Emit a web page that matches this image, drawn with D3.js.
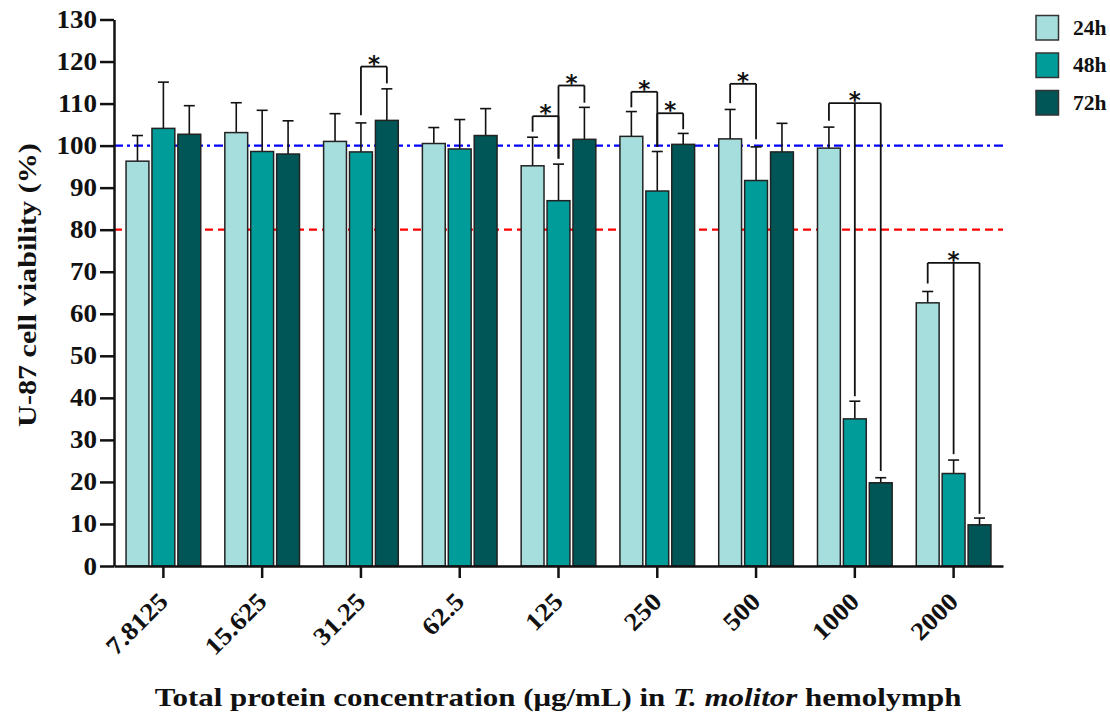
<!DOCTYPE html>
<html><head><meta charset="utf-8">
<script src="https://cdn.jsdelivr.net/npm/d3@7"></script>
<style>body{margin:0;background:#fff}</style>
</head><body>
<svg id="c" width="1110" height="715"></svg>
<script>
const categories = ["7.8125","15.625","31.25","62.5","125","250","500","1000","2000"];
const seriesNames = ["24h","48h","72h"];
const seriesColors = ["#a6dddd","#009c99","#005656"];
const mean24 = [96.3,103.1,101.0,100.5,95.2,102.2,101.6,99.4,62.6];
const sd24   = [6.1,7.1,6.6,3.8,6.8,5.9,7.0,5.0,2.7];
const mean48 = [104.1,98.6,98.5,99.2,86.9,89.2,91.7,35.0,22.0];
const sd48   = [11.0,9.8,6.9,7.0,8.7,9.4,8.0,4.2,3.2];
const mean72 = [102.7,98.0,106.0,102.4,101.5,100.3,98.5,19.8,9.8];
const sd72   = [6.8,7.9,7.5,6.4,7.6,2.6,6.8,1.2,1.6];
const yTicks = [0,10,20,30,40,50,60,70,80,90,100,110,120,130];
const refBlue = 100, refRed = 80;
// significance brackets: category, series legs, top value, leg bottom values
const brackets = [
  {cat:"31.25", legs:[1,2], top:118.8, bottoms:[107.2,114.8]},
  {cat:"125",   legs:[0,1], top:107.0, bottoms:[103.3,96.9]},
  {cat:"125",   legs:[1,2], top:114.3, bottoms:[96.9,110.2]},
  {cat:"250",   legs:[0,1], top:112.8, bottoms:[109.1,99.7]},
  {cat:"250",   legs:[1,2], top:107.7, bottoms:[99.7,103.9]},
  {cat:"500",   legs:[0,1], top:114.7, bottoms:[110.1,101.5]},
  {cat:"1000",  legs:[0,1,2], top:110.1, bottoms:[105.9,40.4,22.6]},
  {cat:"2000",  legs:[0,1,2], top:72.1, bottoms:[67.2,26.6,12.4]}
];

const means = [mean24, mean48, mean72];
const sds = [sd24, sd48, sd72];
const data = categories.map((c,i)=>({cat:c, vals:[0,1,2].map(s=>({s, v:means[s][i], sd:sds[s][i]}))}));

const svg = d3.select("#c");
const FONT = "'Liberation Serif', 'DejaVu Serif', serif";
const x = d3.scaleBand().domain(categories).range([114,1003]).paddingInner(0).paddingOuter(0);
const xs = d3.scaleBand().domain([0,1,2]).range([x.bandwidth()*0.122, x.bandwidth()*0.878]).paddingInner(0.118);
const y = d3.scaleLinear().domain([0,130]).range([566,19.5]);

// reference lines
svg.append("line").attr("x1",114).attr("x2",1003).attr("y1",y(refRed)).attr("y2",y(refRed))
  .attr("stroke","#ff0000").attr("stroke-width",2.2).attr("stroke-dasharray","8,5");
svg.append("line").attr("x1",114).attr("x2",1003).attr("y1",y(refBlue)).attr("y2",y(refBlue))
  .attr("stroke","#0000ff").attr("stroke-width",2.2).attr("stroke-dasharray","9,4,3,4");

// bars
const g = svg.append("g").selectAll("g").data(data).join("g")
  .attr("transform",d=>`translate(${x(d.cat)},0)`);
// error bars
g.selectAll("g.err").data(d=>d.vals).join("g").attr("class","err").each(function(d){
  const cx = xs(d.s)+xs.bandwidth()/2, sel=d3.select(this);
  sel.append("line").attr("x1",cx).attr("x2",cx).attr("y1",y(d.v)).attr("y2",y(d.v+d.sd))
    .attr("stroke","#111").attr("stroke-width",1.6);
  sel.append("line").attr("x1",cx-5.5).attr("x2",cx+5.5).attr("y1",y(d.v+d.sd)).attr("y2",y(d.v+d.sd))
    .attr("stroke","#111").attr("stroke-width",1.6);
});
g.selectAll("rect").data(d=>d.vals).join("rect")
  .attr("x",d=>xs(d.s)).attr("width",xs.bandwidth())
  .attr("y",d=>y(d.v)).attr("height",d=>y(0)-y(d.v))
  .attr("fill",d=>seriesColors[d.s]).attr("stroke","#222").attr("stroke-width",1.5);

// brackets
brackets.forEach(b=>{
  const lx = b.legs.map(s=>x(b.cat)+xs(s)+xs.bandwidth()/2);
  const gb = svg.append("g").attr("stroke","#111").attr("stroke-width",1.8).attr("fill","none");
  gb.append("line").attr("x1",lx[0]).attr("x2",lx[lx.length-1]).attr("y1",y(b.top)).attr("y2",y(b.top));
  lx.forEach((xx,k)=>gb.append("line").attr("x1",xx).attr("x2",xx).attr("y1",y(b.top)).attr("y2",y(b.bottoms[k])));
  svg.append("text").attr("x",(lx[0]+lx[lx.length-1])/2).attr("y",y(b.top)+5)
    .attr("text-anchor","middle").attr("font-family","'DejaVu Sans', sans-serif").attr("font-weight","bold")
    .attr("font-size",23).attr("fill","#111").text("*");
});

// axes
const ya = svg.append("g").attr("transform","translate(114,0)")
  .call(d3.axisLeft(y).tickValues(yTicks).tickSize(14).tickPadding(3).tickSizeOuter(0));
ya.select(".domain").attr("stroke","#111").attr("stroke-width",2.5);
ya.selectAll(".tick line").attr("stroke","#111").attr("stroke-width",2.5);
ya.selectAll(".tick text").attr("font-family",FONT).attr("font-weight","bold").attr("font-size",25).attr("fill","#111")
  .attr("x",0).attr("transform","translate(-17,0) scale(1.08,1)");

const xa = svg.append("g").attr("transform","translate(0,566)")
  .call(d3.axisBottom(x).tickSize(12).tickSizeOuter(0));
xa.select(".domain").attr("stroke","#111").attr("stroke-width",2.5);
xa.selectAll(".tick line").attr("stroke","#111").attr("stroke-width",2.5);
xa.selectAll(".tick text").attr("font-family",FONT).attr("font-weight","bold").attr("font-size",25).attr("fill","#111")
  .attr("text-anchor","end").attr("dy",0).attr("y",0)
  .attr("transform","translate(6,37) rotate(-45) scale(1.1,1)");

// axis titles
svg.append("text").attr("transform","translate(36,285) rotate(-90) scale(1.16,1)").attr("text-anchor","middle")
  .attr("font-family",FONT).attr("font-weight","bold").attr("font-size",26).attr("fill","#111")
  .text("U-87 cell viability (%)");
const t = svg.append("text").attr("transform","translate(558,706) scale(1.19,1)").attr("text-anchor","middle")
  .attr("font-family",FONT).attr("font-weight","bold").attr("font-size",26).attr("fill","#111");
t.append("tspan").text("Total protein concentration (μg/mL) in ");
t.append("tspan").attr("font-style","italic").text("T. molitor");
t.append("tspan").text(" hemolymph");

// legend
const lg = svg.append("g").selectAll("g").data(seriesNames).join("g")
  .attr("transform",(d,i)=>`translate(1036,${15.5+i*37.5})`);
lg.append("rect").attr("width",22.5).attr("height",24.5).attr("fill",(d,i)=>seriesColors[i])
  .attr("stroke","#333").attr("stroke-width",1.5);
lg.append("text").attr("transform","translate(37,19) scale(1.08,1)").attr("font-family",FONT).attr("font-weight","bold")
  .attr("font-size",20).attr("fill","#111").text(d=>d);
</script>
</body></html>
